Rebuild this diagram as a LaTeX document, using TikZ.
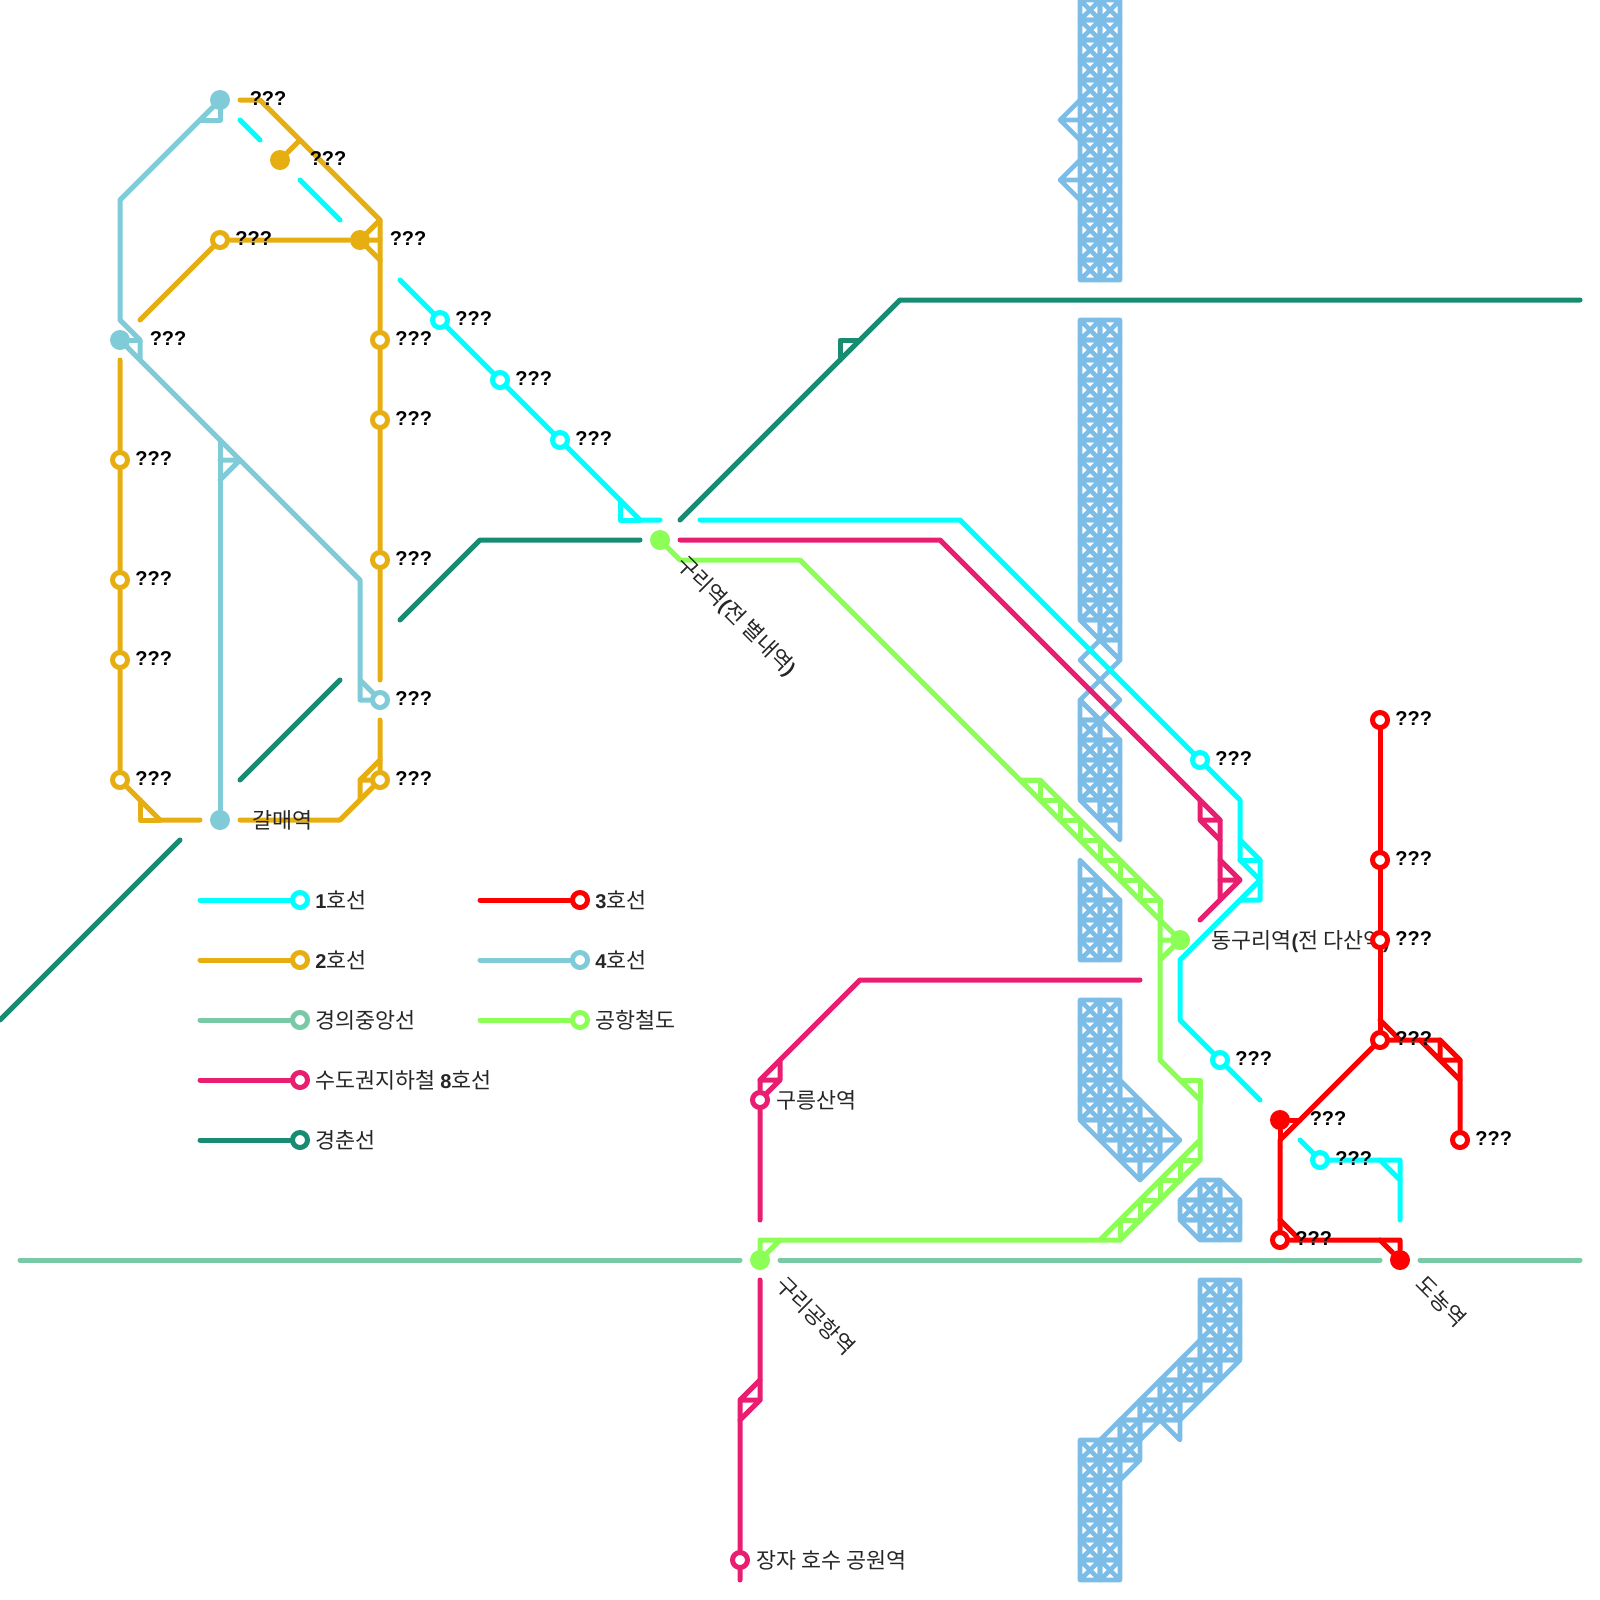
\documentclass[tikz,border=0pt]{standalone}
\usepackage{fontspec}
\usetikzlibrary{positioning, calc, backgrounds}
\setmainfont{Liberation Sans}
\newfontfamily\Kr[Scale=1.09]{Noto Sans CJK KR}
\definecolor{Cl1}{RGB}{0,255,255}
\definecolor{Cl2}{RGB}{230,174,16}
\definecolor{Cl3}{RGB}{255,0,0}
\definecolor{Cl4}{RGB}{127,204,216}
\definecolor{Cl8}{RGB}{233,30,112}
\definecolor{Cgj}{RGB}{122,201,166}
\definecolor{Cgc}{RGB}{24,140,114}
\definecolor{Car}{RGB}{140,255,87}
\definecolor{Crv}{RGB}{124,189,232}
\tikzset{
  ln/.style={line width=5*0.025cm, line cap=round, line join=round, draw=#1},
  riv/.style={line width=4.6*0.025cm, line cap=round, line join=round, draw=Crv},
  Sop/.style n args={1}{circle, draw=#1, fill=white, line width=5*0.025cm,
    minimum size=0.375cm, inner sep=0pt},
  Sfl/.style n args={1}{circle, fill=#1, minimum size=0.5cm, inner sep=0pt},
  lbl/.style={font=\fontsize{14.2}{16}\selectfont, inner sep=0pt, text=black!85},
  qq/.style={lbl, text=black, yshift=0.04cm}
}
\newcommand{\Rc}[2]{\draw[riv] (#1,#2) rectangle ++(1,1) (#1,#2) -- ++(1,1) (#1+1,#2) -- ++(-1,1);}

\begin{document}
\begin{tikzpicture}[x=0.5cm, y=-0.5cm]
\useasboundingbox (0,0) rectangle (80,80);

% ═══════════════════════════════════════════════════════════════
%  RIVER  cells on the 20px grid
% ═══════════════════════════════════════════════════════════════
\begin{scope}[on background layer]
  % north reach
  \foreach \cx in {54,55} \foreach \cy in {0,...,13} {\Rc{\cx}{\cy}}
  \draw[riv] (54,5) -- (53,6) -- (54,7) (53,6) -- (54,6);
  \draw[riv] (54,8) -- (53,9) -- (54,10) (53,9) -- (54,9);

  % down to the two diamonds
  \foreach \cy in {16,...,30} {\Rc{54}{\cy}}
  \foreach \cy in {16,...,31} {\Rc{55}{\cy}}
  \draw[riv] (54,31) -- (55,31) -- (55,32) -- cycle;
  \draw[riv] (55,32) -- (56,32) -- (56,33) -- cycle;
  \draw[riv] (55,32) -- (54,33) -- (55,34) -- (56,33) -- cycle;
  \draw[riv] (55,34) -- (54,35) -- (55,36) -- (56,35) -- cycle;

  % below the diamonds
  \draw[riv] (54,35) -- (54,36) -- (55,36) -- cycle;
  \draw[riv] (55,36) -- (55,37) -- (56,37) -- cycle;
  \foreach \cy in {36,...,39} {\Rc{54}{\cy}}
  \foreach \cy in {37,...,40} {\Rc{55}{\cy}}
  \draw[riv] (54,40) -- (55,40) -- (55,41) -- cycle;
  \draw[riv] (55,41) -- (56,41) -- (56,42) -- cycle;

  % short block
  \draw[riv] (54,43) -- (54,44) -- (55,44) -- cycle;
  \draw[riv] (55,44) -- (55,45) -- (56,45) -- cycle;
  \foreach \cy in {44,...,47} {\Rc{54}{\cy}}
  \foreach \cy in {45,...,47} {\Rc{55}{\cy}}

  % bent block
  \foreach \cx in {54,55} \foreach \cy in {50,...,55} {\Rc{\cx}{\cy}}
  \Rc{55}{56}
  \foreach \cy in {55,56,57} {\Rc{56}{\cy}}
  \foreach \cy in {56,57} {\Rc{57}{\cy}}
  \draw[riv] (54,56) -- (55,56) -- (55,57) -- cycle;
  \draw[riv] (55,57) -- (56,57) -- (56,58) -- cycle;
  \draw[riv] (56,54) -- (56,55) -- (57,55) -- cycle;
  \draw[riv] (56,58) -- (57,58) -- (57,59) -- cycle;
  \draw[riv] (57,55) -- (57,56) -- (58,56) -- cycle;
  \draw[riv] (57,58) -- (58,58) -- (57,59) -- cycle;
  \draw[riv] (58,56) -- (58,57) -- (59,57) -- cycle;
  \draw[riv] (58,57) -- (59,57) -- (58,58) -- cycle;

  % island
  \foreach \cx/\cy in {60/59,59/60,60/60,61/60,60/61,61/61} {\Rc{\cx}{\cy}}
  \draw[riv] (60,59) -- (59,60) -- (60,60) -- cycle;
  \draw[riv] (61,59) -- (62,60) -- (61,60) -- cycle;
  \draw[riv] (59,61) -- (60,61) -- (60,62) -- cycle;

  % south reach
  \foreach \cx/\cy in {60/64,61/64,60/65,61/65,60/66,61/66,60/67,61/67,60/68} {\Rc{\cx}{\cy}}
  \foreach \cx/\cy in {59/68,58/69,59/69,57/70,58/70,56/71,56/72,55/72,54/72,54/73,55/73} {\Rc{\cx}{\cy}}
  \foreach \cx in {54,55} \foreach \cy in {74,...,78} {\Rc{\cx}{\cy}}
  \draw[riv] (60,67) -- (59,68) -- (60,68) -- cycle;
  \draw[riv] (61,68) -- (62,68) -- (61,69) -- cycle;
  \draw[riv] (59,68) -- (58,69) -- (59,69) -- cycle;
  \draw[riv] (60,69) -- (61,69) -- (60,70) -- cycle;
  \draw[riv] (58,69) -- (57,70) -- (58,70) -- cycle;
  \draw[riv] (59,70) -- (60,70) -- (59,71) -- cycle;
  \draw[riv] (57,70) -- (56,71) -- (57,71) -- cycle;
  \draw[riv] (57,71) -- (58,71) -- (57,72) -- cycle;
  \draw[riv] (58,71) -- (59,71) -- (59,72) -- cycle;
  \draw[riv] (56,71) -- (55,72) -- (56,72) -- cycle;
  \draw[riv] (56,73) -- (57,73) -- (56,74) -- cycle;
\end{scope}

% ═══════════════════════════════════════════════════════════════
%  STATIONS
% ═══════════════════════════════════════════════════════════════
\coordinate (Pdg) at (59,47);
\node[lbl, right=0.78cm of Pdg, yshift=-0.04cm] (Tdg) {{\Kr 동구리역}\textbf{(}{\Kr 전 다산역}\textbf{)}};

\node[Sop={Cl1}] (Sa1) at (22,16) {};
\node[Sop={Cl1}] (Sa2) at (25,19) {};
\node[Sop={Cl1}] (Sa3) at (28,22) {};
\node[Sop={Cl1}] (Sa4) at (60,38) {};
\node[Sop={Cl1}] (Sa5) at (61,53) {};
\node[Sop={Cl1}] (Sa6) at (66,58) {};

\node[Sfl={Cl2}] (Sb1) at (14,8)  {};
\node[Sfl={Cl2}] (Sb2) at (18,12) {};
\node[Sop={Cl2}] (Sb3) at (11,12) {};
\node[Sop={Cl2}] (Sb4) at (19,17) {};
\node[Sop={Cl2}] (Sb5) at (19,21) {};
\node[Sop={Cl2}] (Sb6) at (19,28) {};
\node[Sop={Cl2}] (Sb7) at (19,39) {};
\node[Sop={Cl2}] (Sb8) at (6,23)  {};
\node[Sop={Cl2}] (Sb9) at (6,29)  {};
\node[Sop={Cl2}] (Sb10) at (6,33) {};
\node[Sop={Cl2}] (Sb11) at (6,39) {};

\node[Sfl={Cl4}] (Sd1) at (11,5)  {};
\node[Sfl={Cl4}] (Sd2) at (6,17)  {};
\node[Sop={Cl4}] (Sd3) at (19,35) {};
\node[Sfl={Cl4}] (Sd4) at (11,41) {};

\node[Sop={Cl3}] (Sc1) at (69,36) {};
\node[Sop={Cl3}] (Sc2) at (69,43) {};
\node[Sop={Cl3}] (Sc3) at (69,47) {};
\node[Sop={Cl3}] (Sc4) at (69,52) {};
\node[Sop={Cl3}] (Sc5) at (73,57) {};
\node[Sfl={Cl3}] (Sc6) at (64,56) {};
\node[Sop={Cl3}] (Sc7) at (64,62) {};
\node[Sfl={Cl3}] (Sc8) at (70,63) {};

\node[Sop={Cl8}] (Se1) at (38,55) {};
\node[Sop={Cl8}] (Se2) at (37,78) {};

\node[Sfl={Car}] (Sf1) at (33,27) {};
\node[Sfl={Car}] (Sf2) at (59,47) {};
\node[Sfl={Car}] (Sf3) at (38,63) {};

% ═══════════════════════════════════════════════════════════════
%  STATION LABELS
% ═══════════════════════════════════════════════════════════════
\foreach \sn in {Sa1,Sa2,Sa3,Sa4,Sa5,Sa6,Sb3,Sb4,Sb5,Sb6,Sb7,Sb8,Sb9,Sb10,Sb11,
                 Sd3,Sc1,Sc2,Sc3,Sc4,Sc5,Sc7}
  \node[qq, right=0.13cm of \sn] (T\sn) {\textbf{???}};
\foreach \sn in {Sb1,Sb2,Sd1,Sd2,Sc6}
  \node[qq, right=0.48cm of \sn] (T\sn) {\textbf{???}};

\node[lbl, right=0.54cm of Sd4] (Tgm) {\Kr 갈매역};
\node[lbl, right=0.15cm of Se1] (Tgr) {\Kr 구릉산역};
\node[lbl, right=0.15cm of Se2] (Tjj) {\Kr 장자 호수 공원역};
\node[lbl, rotate=-45, anchor=west] (Tgu) at ($(Sf1)+(1,1)$)
  {{\Kr 구리역}\textbf{(}{\Kr 전 별내역}\textbf{)}};
\node[lbl, rotate=-45, anchor=west] (Tga) at ($(Sf3)+(1,1)$) {\Kr 구리공항역};
\node[lbl, rotate=-45, anchor=west] (Tdn) at ($(Sc8)+(1,1)$) {\Kr 도농역};

% ═══════════════════════════════════════════════════════════════
%  LEGEND
% ═══════════════════════════════════════════════════════════════
\foreach \ky/\kc/\kt in {45/Cl1/\textbf{1}{\Kr 호선}, 48/Cl2/\textbf{2}{\Kr 호선},
    51/Cgj/{\Kr 경의중앙선}, 54/Cl8/{\Kr 수도권지하철 }\textbf{8}{\Kr 호선},
    57/Cgc/{\Kr 경춘선}} {
  \coordinate (Kp\ky) at (10,\ky);
  \node[Sop={\kc}] (Kl\ky) at (15,\ky) {};
  \node[lbl, right=0.13cm of Kl\ky] (Kt\ky) {\kt};
  \begin{scope}[on background layer]
    \draw[ln=\kc] (Kp\ky) -- (Kl\ky);
  \end{scope}
}
\foreach \ky/\kc/\kt in {45/Cl3/\textbf{3}{\Kr 호선}, 48/Cl4/\textbf{4}{\Kr 호선},
    51/Car/{\Kr 공항철도}} {
  \coordinate (Rp\ky) at (24,\ky);
  \node[Sop={\kc}] (Rl\ky) at (29,\ky) {};
  \node[lbl, right=0.13cm of Rl\ky] (Rt\ky) {\kt};
  \begin{scope}[on background layer]
    \draw[ln=\kc] (Rp\ky) -- (Rl\ky);
  \end{scope}
}

% ═══════════════════════════════════════════════════════════════
%  LINES
% ═══════════════════════════════════════════════════════════════
\begin{scope}[on background layer]
  % 1
  \coordinate (Aa) at (12,6);  \coordinate (Ab) at (13,7);
  \coordinate (Ac) at (15,9);  \coordinate (Ad) at (17,11);
  \coordinate (Ae) at (20,14); \coordinate (Af) at (32,26); \coordinate (Ag) at (33,26);
  \coordinate (Ah) at (35,26); \coordinate (Ai) at (48,26); \coordinate (Aj) at (62,40);
  \coordinate (Ak) at (62,43); \coordinate (Al) at (63,44); \coordinate (Am) at (59,48);
  \coordinate (An) at (59,51); \coordinate (Ao) at (63,55);
  \coordinate (Ap) at (65,57); \coordinate (Aq) at (70,58); \coordinate (Ar) at (70,61);
  \draw[ln=Cl1] (Aa) -- (Ab);
  \draw[ln=Cl1] (Ac) -- (Ad);
  \draw[ln=Cl1] (Ae) -- (Sa1) -- (Sa2) -- (Sa3) -- (Af) -- (Ag);
  \draw[ln=Cl1] (31,25) -- (31,26) -- (Af);
  \draw[ln=Cl1] (Ah) -- (Ai) -- (Sa4) -- (Aj) -- (Ak) -- (Al) -- (Am) -- (An) -- (Sa5) -- (Ao);
  \draw[ln=Cl1] (62,42) -- (63,43) -- (63,45) -- (62,45);
  \draw[ln=Cl1] (62,43) -- (63,43);
  \draw[ln=Cl1] (Ap) -- (Sa6) -- (Aq) -- (Ar);
  \draw[ln=Cl1] (69,58) -- (70,59);

  % 2
  \coordinate (Ba) at (12,5);  \coordinate (Bb) at (13,5);  \coordinate (Bc) at (19,11);
  \coordinate (Bd) at (19,34); \coordinate (Be) at (15,7);  \coordinate (Bf) at (7,16);
  \coordinate (Bg) at (19,36); \coordinate (Bh) at (17,41); \coordinate (Bi) at (12,41);
  \coordinate (Bj) at (6,18);  \coordinate (Bk) at (8,41);  \coordinate (Bl) at (10,41);
  \draw[ln=Cl2] (Ba) -- (Bb) -- (Bc) -- (Sb4) -- (Sb5) -- (Sb6) -- (Bd);
  \draw[ln=Cl2] (Sb1) -- (Be);
  \draw[ln=Cl2] (Bf) -- (Sb3) -- (Sb2);
  \draw[ln=Cl2] (Sb2.center) -- (Bc) (Sb2.center) -- (19,12) (Sb2.center) -- (19,13);
  \draw[ln=Cl2] (Bg) -- (Sb7) -- (Bh) -- (Bi);
  \draw[ln=Cl2] (19,38) -- (18,39) -- (18,40) (18,39) -- (19,39);
  \draw[ln=Cl2] (Bj) -- (Sb8) -- (Sb9) -- (Sb10) -- (Sb11) -- (Bk) -- (Bl);
  \draw[ln=Cl2] (7,40) -- (7,41) -- (Bk);

  % 4
  \coordinate (Da) at (6,10);  \coordinate (Db) at (6,16);  \coordinate (Dc) at (18,29);
  \coordinate (Dd) at (18,35); \coordinate (De) at (11,22);
  \draw[ln=Cl4] (Sd1.center) -- (Da) -- (Db) -- (7,17) -- (7,18);
  \draw[ln=Cl4] (Sd1.center) -- (11,6) -- (10,6);
  \draw[ln=Cl4] (Sd2.center) -- (7,17);
  \draw[ln=Cl4] (Sd2.center) -- (Dc) -- (Dd) -- (Sd3);
  \draw[ln=Cl4] (18,34) -- (Sd3);
  \draw[ln=Cl4] (De) -- (Sd4);
  \draw[ln=Cl4] (11,23) -- (12,23) -- (11,24);

  % 경춘
  \coordinate (Ga) at (0,51);  \coordinate (Gb) at (9,42);
  \coordinate (Gc) at (12,39); \coordinate (Gd) at (17,34);
  \coordinate (Ge) at (20,31); \coordinate (Gf) at (24,27); \coordinate (Gg) at (32,27);
  \coordinate (Gh) at (34,26); \coordinate (Gi) at (45,15); \coordinate (Gj) at (79,15);
  \draw[ln=Cgc] (Ga) -- (Gb);
  \draw[ln=Cgc] (Gc) -- (Gd);
  \draw[ln=Cgc] (Ge) -- (Gf) -- (Gg);
  \draw[ln=Cgc] (Gh) -- (Gi) -- (Gj);
  \draw[ln=Cgc] (42,18) -- (42,17) -- (43,17);

  % 8
  \coordinate (Ea) at (34,27); \coordinate (Eb) at (47,27); \coordinate (Ec) at (61,41);
  \coordinate (Ed) at (61,45); \coordinate (Ee) at (60,46);
  \coordinate (Ef) at (57,49); \coordinate (Eg) at (43,49); \coordinate (Eh) at (38,54);
  \coordinate (Ei) at (38,61);
  \coordinate (Ej) at (38,64); \coordinate (Ek) at (38,70); \coordinate (El) at (37,71);
  \coordinate (Em) at (37,79);
  \draw[ln=Cl8] (Ea) -- (Eb) -- (Ec) -- (Ed) -- (Ee);
  \draw[ln=Cl8] (60,40) -- (60,41) -- (Ec) (60,41) -- (61,42);
  \draw[ln=Cl8] (61,43) -- (62,44) -- (Ed) (61,44) -- (62,44);
  \draw[ln=Cl8] (Ef) -- (Eg) -- (Eh) -- (Se1) -- (Ei);
  \draw[ln=Cl8] (Eh) -- (39,54) -- (39,53) (39,54) -- (Se1);
  \draw[ln=Cl8] (Ej) -- (Ek) -- (El) -- (Se2) -- (Em);
  \draw[ln=Cl8] (38,69) -- (37,70) -- (El) (37,70) -- (Ek);

  % 3
  \coordinate (Ca) at (69,51); \coordinate (Cb) at (70,52); \coordinate (Cc) at (72,52);
  \coordinate (Cd) at (73,53); \coordinate (Ce) at (64,57); \coordinate (Cf) at (69,62);
  \draw[ln=Cl3] (Sc1) -- (Sc2) -- (Sc3) -- (Sc4);
  \draw[ln=Cl3] (Ca) -- (Cb);
  \draw[ln=Cl3] (Sc4) -- (Cb) -- (Cc) -- (Cd) -- (Sc5);
  \draw[ln=Cl3] (71,52) -- (73,54) (Cc) -- (72,53) -- (Cd);
  \draw[ln=Cl3] (Sc4) -- (Ce) -- (Sc7) -- (70,62) -- (Sc8);
  \draw[ln=Cl3] (Sc6) -- (Ce) (Sc6) -- (65,56);
  \draw[ln=Cl3] (64,61) -- (65,62);
  \draw[ln=Cl3] (Cf) -- (Sc8);

  % airport
  \coordinate (Fa) at (34,28); \coordinate (Fb) at (40,28); \coordinate (Fc) at (58,46);
  \coordinate (Fd) at (58,53); \coordinate (Fe) at (60,55); \coordinate (Ff) at (60,58);
  \coordinate (Fg) at (56,62); \coordinate (Fh) at (39,62);
  \draw[ln=Car] (Sf1.center) -- (Fa) -- (Fb) -- (Fc) -- (Sf2);
  \draw[ln=Car] (51,39) -- (52,39) -- (58,45) -- (Fd) -- (Fe) -- (Ff) -- (Fg) -- (38,62) -- (Sf3);
  \foreach \k in {0,...,6}
    \draw[ln=Car] (51+\k,39+\k) -- (52+\k,39+\k) -- (52+\k,40+\k);
  \draw[ln=Car] (58,47) -- (Sf2) (58,48) -- (Sf2);
  \draw[ln=Car] (59,54) -- (60,54) -- (Fe);
  \draw[ln=Car] (60,57) -- (55,62);
  \draw[ln=Car] (59,58) -- (60,58) (59,58) -- (59,59) -- (58,59) -- (58,60) -- (57,60) -- (57,61)
    -- (56,61) -- (56,62);
  \draw[ln=Car] (Fh) -- (Sf3);

  % 경의중앙
  \coordinate (Ha) at (1,63);  \coordinate (Hb) at (37,63);
  \coordinate (Hc) at (39,63); \coordinate (Hd) at (69,63);
  \coordinate (He) at (71,63); \coordinate (Hf) at (79,63);
  \draw[ln=Cgj] (Ha) -- (Hb);
  \draw[ln=Cgj] (Hc) -- (Hd);
  \draw[ln=Cgj] (He) -- (Hf);
\end{scope}

\end{tikzpicture}
\end{document}
